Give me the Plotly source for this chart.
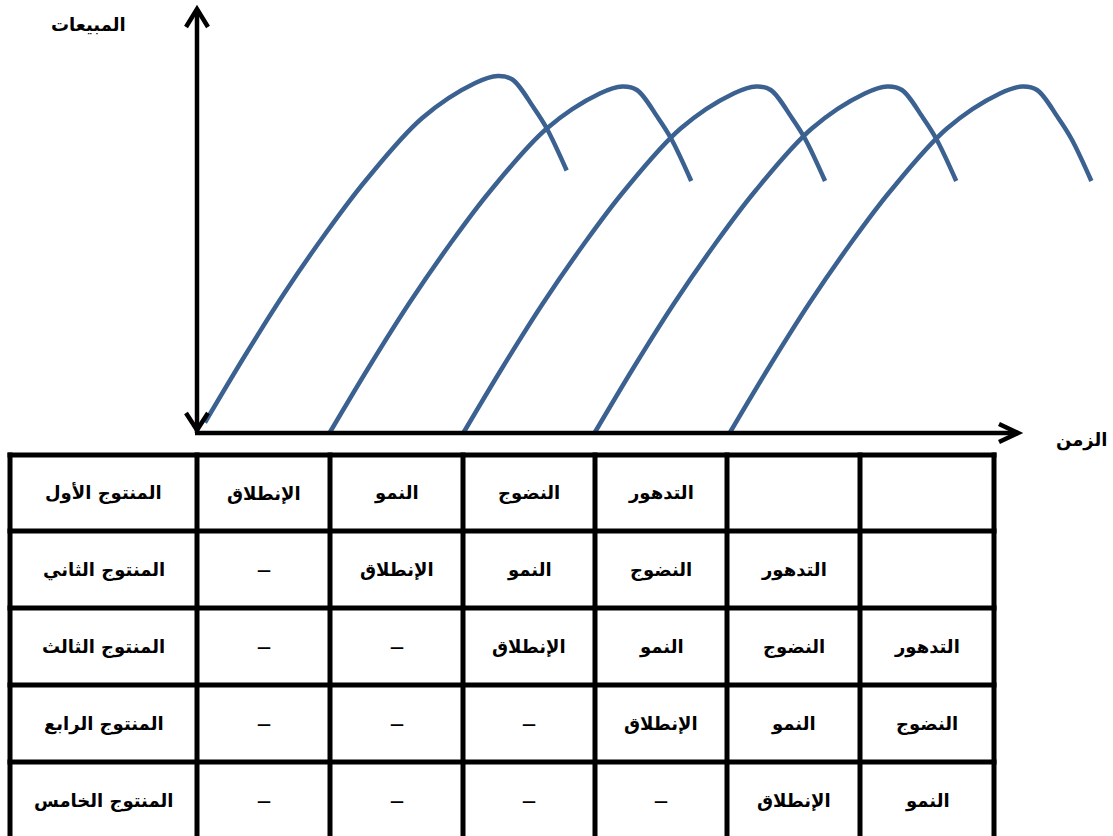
import plotly.graph_objects as go

W, H = 1113, 836

# ---------------- data ----------------
x_title = "الزمن"
y_title = "المبيعات"

products = ["المنتوج الأول", "المنتوج الثاني", "المنتوج الثالث", "المنتوج الرابع", "المنتوج الخامس"]

row1 = ["الإنطلاق", "النمو", "النضوج", "التدهور", "", ""]
row2 = ["—", "الإنطلاق", "النمو", "النضوج", "التدهور", ""]
row3 = ["—", "—", "الإنطلاق", "النمو", "النضوج", "التدهور"]
row4 = ["—", "—", "—", "الإنطلاق", "النمو", "النضوج"]
row5 = ["—", "—", "—", "—", "الإنطلاق", "النمو"]

# time in periods (one table column per period), sales in arbitrary units (~100 at peak)
time1 = [0.06, 0.36, 0.66, 0.97, 1.27, 1.70, 2.10, 2.27, 2.38, 2.54, 2.64, 2.79]
sales1 = [3, 22, 40, 57, 72, 90, 100, 102, 101, 93, 87, 75]
time2 = [1.00, 1.30, 1.60, 1.91, 2.21, 2.64, 3.04, 3.21, 3.32, 3.48, 3.58, 3.73]
sales2 = [0, 19, 37, 54, 69, 87, 97, 99, 98, 90, 84, 72]
time3 = [2.01, 2.31, 2.61, 2.92, 3.22, 3.65, 4.05, 4.22, 4.33, 4.49, 4.59, 4.74]
sales3 = [0, 19, 37, 54, 69, 87, 97, 99, 98, 90, 84, 72]
time4 = [3.00, 3.30, 3.60, 3.91, 4.21, 4.64, 5.04, 5.21, 5.32, 5.48, 5.58, 5.73]
sales4 = [0, 19, 37, 54, 69, 87, 97, 99, 98, 90, 84, 72]
time5 = [4.02, 4.32, 4.62, 4.93, 5.23, 5.66, 6.06, 6.23, 6.34, 6.50, 6.60, 6.75]
sales5 = [0, 19, 37, 54, 69, 87, 97, 99, 98, 90, 84, 72]

# ---------------- layout helpers (pixel -> axis units) ----------------
X0, PXT = 197.0, 132.5   # pixel of time 0, pixels per period
Y0, PXS = 433.0, 3.5     # pixel of sales 0, pixels per sales unit


def tx(px):
    return (px - X0) / PXT


def sy(py):
    return (Y0 - py) / PXS


CURVE = "#3B6191"
FONT = "DejaVu Sans"
FS = 18

fig = go.Figure()
for t, s in [(time1, sales1), (time2, sales2), (time3, sales3), (time4, sales4), (time5, sales5)]:
    fig.add_trace(go.Scatter(x=t, y=s, mode="lines",
                             line=dict(color=CURVE, width=4.5, shape="spline", smoothing=1.0),
                             hoverinfo="skip", showlegend=False))

shapes = []
AXW = 4.5
# axes
shapes.append(dict(type="line", x0=0, x1=0, y0=sy(433), y1=sy(9), line=dict(color="black", width=AXW)))
shapes.append(dict(type="line", x0=tx(195), x1=tx(1018), y0=0, y1=0, line=dict(color="black", width=AXW)))


def chevron(p1, tip, p2):
    path = "M {},{} L {},{} L {},{}".format(tx(p1[0]), sy(p1[1]), tx(tip[0]), sy(tip[1]), tx(p2[0]), sy(p2[1]))
    return dict(type="path", path=path, line=dict(color="black", width=AXW))


shapes.append(chevron((186, 27), (197, 9), (208, 27)))
shapes.append(chevron((999, 424), (1018, 433), (999, 442)))
shapes.append(chevron((186, 413), (197, 430), (208, 413)))

# table
col_px = [10, 197, 330, 463, 595, 727, 860, 994]
row_px = [455, 531, 608, 685, 762, 839]
TW = 5
for cx in col_px:
    shapes.append(dict(type="line", x0=tx(cx), x1=tx(cx), y0=sy(row_px[0] - 2.5), y1=sy(row_px[-1]),
                       line=dict(color="black", width=TW)))
for ry in row_px:
    shapes.append(dict(type="line", x0=tx(col_px[0] - 2.5), x1=tx(col_px[-1] + 2.5), y0=sy(ry), y1=sy(ry),
                       line=dict(color="black", width=TW)))

annotations = []
annotations.append(dict(x=tx(88), y=sy(24), text=y_title, showarrow=False,
                        font=dict(family=FONT, size=FS, color="black", weight="bold")))
annotations.append(dict(x=tx(1081), y=sy(440), text=x_title, showarrow=False,
                        font=dict(family=FONT, size=FS, color="black", weight="bold")))

rows = [row1, row2, row3, row4, row5]
for i, (name, cells) in enumerate(zip(products, rows)):
    cy = (row_px[i] + row_px[i + 1]) / 2
    annotations.append(dict(x=tx((col_px[0] + col_px[1]) / 2), y=sy(cy), text=name, showarrow=False,
                            font=dict(family=FONT, size=FS, color="black", weight="bold")))
    for j, c in enumerate(cells):
        if not c:
            continue
        cx = (col_px[j + 1] + col_px[j + 2]) / 2
        size = 14 if c == "—" else FS
        annotations.append(dict(x=tx(cx), y=sy(cy), text=c, showarrow=False,
                                font=dict(family=FONT, size=size, color="black", weight="bold")))

fig.update_layout(
    width=W, height=H,
    margin=dict(l=0, r=0, t=0, b=0),
    paper_bgcolor="white", plot_bgcolor="white",
    xaxis=dict(range=[tx(0), tx(W)], visible=False, fixedrange=True),
    yaxis=dict(range=[sy(H), sy(0)], visible=False, fixedrange=True),
    shapes=shapes, annotations=annotations, showlegend=False,
)

fig.write_html("out.html", config={"displayModeBar": False},
               post_script="document.body.style.margin='0';document.body.style.overflow='hidden';")
